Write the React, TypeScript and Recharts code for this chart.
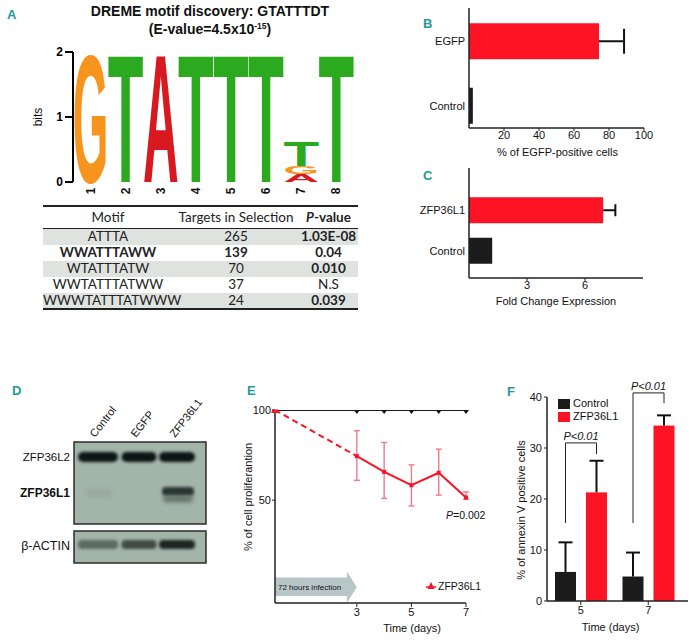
import React from "react";
import {
  BarChart,
  Bar,
  LineChart,
  Line,
  XAxis,
  YAxis,
  ErrorBar,
  Label,
  ReferenceArea,
} from "recharts";

const FONT = "'Liberation Sans', Arial, sans-serif";
const NARROW = "'Liberation Sans Narrow', 'Liberation Sans', Arial, sans-serif";
const TEAL = "#1f9b98";
const RED = "#fc1424";
const BLACK = "#1b1b1b";
const AXIS = "#222";

// A: motif logo (bits per position)
const logoPositions = ["1", "2", "3", "4", "5", "6", "7", "8"];
const logoA = [0, 0, 2, 0, 0, 0, 0.12, 0];
const logoG = [2, 0, 0, 0, 0, 0, 0.12, 0];
const logoT = [0, 2, 0, 2, 2, 2, 0.38, 2];

// A: motif table
const motifNames = ["ATTTA", "WWATTTAWW", "WTATTTATW", "WWTATTTATWW", "WWWTATTTATWWW"];
const motifTargets = [265, 139, 70, 37, 24];
const motifPValues = ["1.03E-08", "0.04", "0.010", "N.S", "0.039"];

// B: % EGFP-positive cells
const egfpGroups = ["EGFP", "Control"];
const egfpValues = [74.3, 2.2];
const egfpErrors = [14.3, 0];

// C: fold change
const foldGroups = ["ZFP36L1", "Control"];
const foldValues = [6.94, 1.2];
const foldErrors = [0.63, 0];

// E: proliferation
const prolifDays = [0, 3, 4, 5, 6, 7];
const prolifControl = [100, 100, 100, 100, 100, 100];
const prolifZfp = [100, 74.4, 65.7, 58.3, 65.2, 51.5];
const prolifErrLow = [0, 13.4, 14.7, 11.5, 12.4, 1.0];
const prolifErrHigh = [0, 14.1, 16.3, 11.3, 13.1, 3.1];
const infectionDays = [0, 3];

// F: annexin V
const annexinDays = ["5", "7"];
const annexinControl = [5.7, 4.8];
const annexinControlErr = [5.8, 4.7];
const annexinZfp = [21.3, 34.4];
const annexinZfpErr = [6.2, 2.0];
const bracketTop = [31.0, 40.8];
const bracketLeftEnd = [15.3, 15.3];
const bracketRightEnd = [28.8, 38.8];

const vTitle = (text: string, dx: number, dy: number, size = 11) => (props: any) => {
  const vb = props.viewBox || { x: 0, y: 0, width: 0, height: 0 };
  const cx = vb.x + dx;
  const cy = vb.y + vb.height / 2 + dy;
  return (
    <text
      x={cx}
      y={cy}
      transform={`rotate(-90 ${cx} ${cy})`}
      textAnchor="middle"
      dominantBaseline="central"
      fontSize={size}
      fill="#111"
      fontFamily={FONT}
    >
      {text}
    </text>
  );
};

const hTitle = (text: string, dx: number, dy: number, size = 11) => (props: any) => {
  const vb = props.viewBox || { x: 0, y: 0, width: 0, height: 0 };
  return (
    <text
      x={vb.x + vb.width / 2 + dx}
      y={vb.y + dy}
      textAnchor="middle"
      fontSize={size}
      fill="#111"
      fontFamily={FONT}
    >
      {text}
    </text>
  );
};

const letterShape = (letter: string, color: string) => (props: any) => {
  const { x, y, width, height } = props;
  if (!height || height <= 0.5) return <g />;
  return (
    <text
      x={0}
      y={0}
      fontSize={100}
      fontWeight="bold"
      fontFamily={FONT}
      fill={color}
      textLength={width * 1.08}
      lengthAdjust="spacingAndGlyphs"
      transform={`translate(${x - width * 0.04},${y + height}) scale(1,${height / 71.6})`}
    >
      {letter}
    </text>
  );
};

const LogoTick = (props: any) => {
  const { x, y, payload } = props;
  return (
    <text
      transform={`translate(${x},${y + 9}) rotate(-90)`}
      textAnchor="middle"
      dominantBaseline="central"
      fontSize={12}
      fontWeight="bold"
      fontFamily={FONT}
      fill="#111"
    >
      {payload.value}
    </text>
  );
};

function MotifLogo() {
  const data = logoPositions.map((pos, i) => ({ pos, A: logoA[i], G: logoG[i], T: logoT[i] }));
  return (
    <BarChart
      width={370}
      height={170}
      data={data}
      margin={{ top: 12, right: 16, bottom: 0, left: 13 }}
      barCategoryGap={1}
    >
      <XAxis
        dataKey="pos"
        axisLine={false}
        tickLine={false}
        tickSize={0}
        tickMargin={0}
        height={28}
        interval={0}
        tick={LogoTick}
      />
      <YAxis
        domain={[0, 2]}
        ticks={[0, 1, 2]}
        width={60}
        axisLine={{ stroke: "#000", strokeWidth: 2 }}
        tickLine={{ stroke: "#000", strokeWidth: 2 }}
        tickSize={8}
        tickMargin={2}
        tick={{ fontSize: 12, fontWeight: "bold", fill: "#000", fontFamily: FONT }}
      >
        <Label content={vTitle("bits", 25, 0, 12)} />
      </YAxis>
      <Bar dataKey="A" stackId="s" shape={letterShape("A", "#d81920")} isAnimationActive={false} />
      <Bar dataKey="G" stackId="s" shape={letterShape("G", "#f7941e")} isAnimationActive={false} />
      <Bar dataKey="T" stackId="s" shape={letterShape("T", "#2caa1f")} isAnimationActive={false} />
    </BarChart>
  );
}

function MotifTable() {
  const cols = [130, 126, 59];
  return (
    <div
      style={{
        position: "absolute",
        left: 43,
        top: 205,
        width: 315,
        fontFamily: "Lato, 'Open Sans', sans-serif",
        fontSize: 13.5,
        color: "#222",
        lineHeight: 1,
      }}
    >
      <div
        style={{
          borderTop: "2.5px solid #222",
          borderBottom: "1.5px solid #222",
          display: "flex",
          height: 21,
          alignItems: "center",
        }}
      >
        <div style={{ width: cols[0], textAlign: "center" }}>Motif</div>
        <div style={{ width: cols[1], textAlign: "center" }}>Targets in Selection</div>
        <div style={{ width: cols[2], textAlign: "center", fontWeight: 700 }}>
          <i>P</i>-value
        </div>
      </div>
      {motifNames.map((m, i) => (
        <div
          key={m}
          style={{
            display: "flex",
            height: 15.9,
            alignItems: "center",
            background: i % 2 === 0 ? "#dfe3e0" : "transparent",
            fontWeight: i === 1 ? 700 : 400,
          }}
        >
          <div style={{ width: cols[0], textAlign: "center" }}>{m}</div>
          <div style={{ width: cols[1], textAlign: "center" }}>{motifTargets[i]}</div>
          <div style={{ width: cols[2], textAlign: "center", fontWeight: motifPValues[i] === "N.S" ? 400 : 700 }}>
            {motifPValues[i]}
          </div>
        </div>
      ))}
      <div style={{ borderTop: "2.5px solid #222" }} />
    </div>
  );
}

const hBarShape = (values: number[], errors: number[], colors: string[], capHalf: number) => (props: any) => {
  const { x, y, width, height, index } = props;
  const v = values[index];
  const e = errors[index];
  const ppu = width / v;
  const end = x + width;
  const cy = y + height / 2;
  const errEnd = end + e * ppu;
  return (
    <g>
      <rect x={x} y={y} width={width} height={height} fill={colors[index]} />
      {e > 0 && (
        <g stroke="#111" strokeWidth={2}>
          <line x1={end} y1={cy} x2={errEnd} y2={cy} />
          <line x1={errEnd} y1={cy - capHalf} x2={errEnd} y2={cy + capHalf} />
        </g>
      )}
    </g>
  );
};

function EgfpChart() {
  const data = egfpGroups.map((name, i) => ({ name, value: egfpValues[i] }));
  return (
    <BarChart
      width={280}
      height={170}
      data={data}
      layout="vertical"
      margin={{ top: 8, right: 16, bottom: 0, left: 9 }}
      barSize={36}
    >
      <XAxis
        type="number"
        domain={[0, 100]}
        ticks={[20, 40, 60, 80, 100]}
        height={42}
        axisLine={{ stroke: AXIS, strokeWidth: 1.5 }}
        tickLine={{ stroke: AXIS }}
        tickSize={3}
        tickMargin={0}
        tick={{ fontSize: 11, fill: "#111", fontFamily: FONT }}
      >
        <Label content={hTitle("% of EGFP-positive cells", 1, 28)} />
      </XAxis>
      <YAxis
        type="category"
        dataKey="name"
        width={80}
        padding={{ top: 1.25, bottom: -10.25 }}
        axisLine={{ stroke: AXIS, strokeWidth: 1.5 }}
        tickLine={false}
        tickSize={0}
        tickMargin={4}
        tick={{ fontSize: 11, fill: "#111", fontFamily: FONT }}
      />
      <Bar
        dataKey="value"
        shape={hBarShape(egfpValues, egfpErrors, [RED, BLACK], 12.5)}
        isAnimationActive={false}
      />
    </BarChart>
  );
}

function FoldChart() {
  const data = foldGroups.map((name, i) => ({ name, value: foldValues[i] }));
  return (
    <BarChart
      width={280}
      height={160}
      data={data}
      layout="vertical"
      margin={{ top: 8, right: 17, bottom: 0, left: 9 }}
      barSize={26}
    >
      <XAxis
        type="number"
        domain={[0, 9]}
        ticks={[3, 6]}
        height={42}
        axisLine={{ stroke: AXIS, strokeWidth: 1.5 }}
        tickLine={{ stroke: AXIS }}
        tickSize={3}
        tickMargin={0}
        tick={{ fontSize: 11, fill: "#111", fontFamily: FONT }}
      >
        <Label content={hTitle("Fold Change Expression", 0, 27)} />
      </XAxis>
      <YAxis
        type="category"
        dataKey="name"
        width={80}
        padding={{ top: 22.25, bottom: 6.75 }}
        axisLine={{ stroke: AXIS, strokeWidth: 1.5 }}
        tickLine={false}
        tickSize={0}
        tickMargin={4}
        tick={{ fontSize: 11, fill: "#111", fontFamily: FONT }}
      />
      <Bar
        dataKey="value"
        shape={hBarShape(foldValues, foldErrors, [RED, BLACK], 6)}
        isAnimationActive={false}
      />
    </BarChart>
  );
}

function WesternBlot() {
  const lanes = [
    { cx: 98, w: 40 },
    { cx: 139, w: 35 },
    { cx: 177, w: 36 },
  ];
  const laneNames = ["Control", "EGFP", "ZFP36L1"];
  const laneStarts = [95, 136, 175];
  const actin = ["#5d6b62", "#3f4b44", "#1f2622"];
  return (
    <svg width={230} height={200} style={{ position: "absolute", left: 0, top: 380 }}>
      <defs>
        <filter id="b1" x="-20%" y="-100%" width="140%" height="300%">
          <feGaussianBlur stdDeviation="1.4" />
        </filter>
        <filter id="b2" x="-20%" y="-100%" width="140%" height="300%">
          <feGaussianBlur stdDeviation="2.2" />
        </filter>
      </defs>
      {laneNames.map((n, i) => (
        <text
          key={n}
          transform={`translate(${laneStarts[i]},58) rotate(-52)`}
          fontSize={11}
          fontFamily={FONT}
          fill="#111"
        >
          {n}
        </text>
      ))}
      <rect x={74} y={62} width={132} height={82} fill="#a3b4a9" stroke="#2b2b2b" strokeWidth={1.5} />
      <rect x={74} y={151} width={132} height={32} fill="#a3b4a9" stroke="#2b2b2b" strokeWidth={1.5} />
      {lanes.map((l, i) => (
        <rect
          key={"l2" + i}
          x={l.cx - l.w / 2}
          y={72}
          width={l.w}
          height={10}
          rx={5}
          fill="#101612"
          filter="url(#b1)"
        />
      ))}
      <rect x={86} y={109} width={26} height={8} rx={4} fill="#98a89e" filter="url(#b2)" />
      <rect x={162} y={107} width={32} height={9} rx={4} fill="#2c3530" filter="url(#b1)" />
      <rect x={163} y={116} width={30} height={6} rx={3} fill="#5f6e65" filter="url(#b2)" />
      {lanes.map((l, i) => (
        <rect
          key={"ac" + i}
          x={l.cx - l.w / 2}
          y={160}
          width={l.w}
          height={9}
          rx={4}
          fill={actin[i]}
          filter="url(#b1)"
        />
      ))}
      <text x={70} y={77} textAnchor="end" dominantBaseline="central" fontSize={11.5} fontFamily={FONT} fill="#111">
        ZFP36L2
      </text>
      <text
        x={70}
        y={113}
        textAnchor="end"
        dominantBaseline="central"
        fontSize={12}
        fontWeight="bold"
        fontFamily={FONT}
        fill="#111"
      >
        ZFP36L1
      </text>
      <text x={70} y={166} textAnchor="end" dominantBaseline="central" fontSize={12.5} fontFamily={FONT} fill="#111">
        β-ACTIN
      </text>
    </svg>
  );
}

const DiamondDot = (p: any) => {
  const { cx, cy, index } = p;
  if (index === 0 || cx == null || cy == null) return <g key={"dd" + index} />;
  return (
    <path
      key={"dd" + index}
      d={`M${cx},${cy - 4} L${cx + 3},${cy} L${cx},${cy + 4} L${cx - 3},${cy} Z`}
      fill="#111"
    />
  );
};

const LeadDot = (p: any) => {
  const { cx, cy, index } = p;
  if (index !== 0 || cx == null || cy == null) return <g key={"ld" + index} />;
  return <path key={"ld" + index} d={`M${cx},${cy - 4} L${cx + 4},${cy + 3} L${cx - 4},${cy + 3} Z`} fill={RED} />;
};

const SquareDot = (p: any) => {
  const { cx, cy, index } = p;
  if (cx == null || cy == null) return <g key={"sd" + index} />;
  return <rect key={"sd" + index} x={cx - 2} y={cy - 2} width={4} height={4} fill={RED} />;
};

const InfectionArrow = (props: any) => {
  const { x, y, width, height } = props;
  const head = 10;
  const bt = y + 6;
  const bb = y + height - 7;
  const d = `M${x},${bt} L${x + width - head},${bt} L${x + width - head},${y} L${x + width},${y + height / 2} L${x + width - head},${y + height} L${x + width - head},${bb} L${x},${bb} Z`;
  return (
    <g>
      <path d={d} fill="#b8c6c8" />
      <text x={x + 3} y={y + height / 2} dominantBaseline="central" fontSize={8} fontFamily={FONT} fill="#111">
        72 hours infection
      </text>
    </g>
  );
};

function ProliferationChart() {
  const data = prolifDays.map((day, i) => ({
    day,
    control: prolifControl[i],
    zfpAll: prolifZfp[i],
    zfpLead: i <= 1 ? prolifZfp[i] : null,
    zfp: i >= 1 ? prolifZfp[i] : null,
    zfpErr: [prolifErrLow[i], prolifErrHigh[i]],
  }));
  return (
    <LineChart width={270} height={245} data={data} margin={{ top: 15, right: 24, bottom: 0, left: 5 }}>
      <XAxis
        type="number"
        dataKey="day"
        domain={[0, 7]}
        ticks={[3, 5, 7]}
        height={37}
        axisLine={{ stroke: AXIS, strokeWidth: 1.5 }}
        tickLine={{ stroke: AXIS }}
        tickSize={4}
        tickMargin={1}
        tick={{ fontSize: 11, fill: "#111", fontFamily: FONT }}
      >
        <Label content={hTitle("Time (days)", 41.5, 29)} />
      </XAxis>
      <YAxis
        type="number"
        domain={[-7, 100]}
        ticks={[50, 100]}
        allowDataOverflow
        width={50}
        axisLine={{ stroke: AXIS, strokeWidth: 1.5 }}
        tickLine={{ stroke: AXIS }}
        tickSize={3}
        tickMargin={1}
        tick={{ fontSize: 11, fill: "#111", fontFamily: FONT }}
      >
        <Label content={vTitle("% of cell proliferantion", 23, -9.5)} />
      </YAxis>
      <ReferenceArea
        x1={infectionDays[0]}
        x2={infectionDays[1]}
        y1={-7}
        y2={10.5}
        shape={InfectionArrow}
      />
      <Line dataKey="zfpAll" stroke="none" dot={false} isAnimationActive={false}>
        <ErrorBar dataKey="zfpErr" width={3} stroke="#f07a8a" strokeWidth={1.4} direction="y" />
      </Line>
      <Line dataKey="control" stroke="#1a1a1a" strokeWidth={2} dot={DiamondDot} isAnimationActive={false} />
      <Line
        dataKey="zfpLead"
        stroke={RED}
        strokeWidth={2}
        strokeDasharray="6 4"
        dot={LeadDot}
        isAnimationActive={false}
      />
      <Line dataKey="zfp" stroke={RED} strokeWidth={2} dot={SquareDot} isAnimationActive={false} />
    </LineChart>
  );
}

const BAR_SIZE = 21;
const BAR_GAP = 10;

const annexinShape = (isZfp: boolean) => (props: any) => {
  const { x, y, width, height, index } = props;
  const value = isZfp ? annexinZfp[index] : annexinControl[index];
  const err = isZfp ? annexinZfpErr[index] : annexinControlErr[index];
  const ppu = height / value;
  const base = y + height;
  const cx = x + width / 2;
  const errTop = base - (value + err) * ppu;
  const cap = 7;
  let bracket = null;
  if (isZfp) {
    const lx = cx - BAR_SIZE - BAR_GAP;
    const ty = base - bracketTop[index] * ppu;
    const ly = base - bracketLeftEnd[index] * ppu;
    const ry = base - bracketRightEnd[index] * ppu;
    bracket = (
      <g>
        <path d={`M${lx},${ly} V${ty} H${cx} V${ry}`} fill="none" stroke="#222" strokeWidth={1} />
        <text
          x={(lx + cx) / 2}
          y={ty - 3}
          textAnchor="middle"
          fontSize={11}
          fontStyle="italic"
          fontFamily={FONT}
          fill="#111"
        >
          P&lt;0.01
        </text>
      </g>
    );
  }
  return (
    <g>
      <rect x={x} y={y} width={width} height={height} fill={isZfp ? RED : BLACK} />
      <g stroke="#111" strokeWidth={2}>
        <line x1={cx} y1={y} x2={cx} y2={errTop} />
        <line x1={cx - cap} y1={errTop} x2={cx + cap} y2={errTop} />
      </g>
      {bracket}
    </g>
  );
};

function AnnexinChart() {
  const data = annexinDays.map((day, i) => ({ day, control: annexinControl[i], zfp: annexinZfp[i] }));
  return (
    <BarChart
      width={219}
      height={260}
      data={data}
      margin={{ top: 17, right: 1, bottom: 0, left: 2 }}
      barSize={BAR_SIZE}
      barGap={BAR_GAP}
    >
      <XAxis
        dataKey="day"
        padding={{ left: 0, right: 6 }}
        height={39}
        axisLine={{ stroke: AXIS, strokeWidth: 1.5 }}
        tickLine={{ stroke: AXIS }}
        tickSize={4}
        tickMargin={1}
        tick={{ fontSize: 11, fill: "#111", fontFamily: FONT }}
      >
        <Label content={hTitle("Time (days)", -7, 30)} />
      </XAxis>
      <YAxis
        domain={[0, 40]}
        ticks={[0, 10, 20, 30, 40]}
        width={75}
        axisLine={{ stroke: AXIS, strokeWidth: 1.5 }}
        tickLine={{ stroke: AXIS }}
        tickSize={3}
        tickMargin={2}
        tick={{ fontSize: 11, fill: "#111", fontFamily: FONT }}
      >
        <Label content={vTitle("% of annexin V positive cells", 49, 11)} />
      </YAxis>
      <Bar dataKey="control" shape={annexinShape(false)} isAnimationActive={false} />
      <Bar dataKey="zfp" shape={annexinShape(true)} isAnimationActive={false} />
    </BarChart>
  );
}

const panelLabel = (text: string, left: number, top: number) => (
  <div
    style={{
      position: "absolute",
      left,
      top,
      color: TEAL,
      fontFamily: NARROW,
      fontWeight: "bold",
      fontSize: 13,
      lineHeight: 1,
    }}
  >
    {text}
  </div>
);

export default function App() {
  return (
    <div
      style={{
        position: "absolute",
        left: 0,
        top: 0,
        width: 689,
        height: 640,
        background: "#fff",
        overflow: "hidden",
        fontFamily: FONT,
      }}
    >
      {panelLabel("A", 7, 8)}
      {panelLabel("B", 423, 17)}
      {panelLabel("C", 423, 169)}
      {panelLabel("D", 12, 384)}
      {panelLabel("E", 247, 384)}
      {panelLabel("F", 507, 385)}

      <div
        style={{
          position: "absolute",
          left: 60,
          top: 3,
          width: 300,
          textAlign: "center",
          fontWeight: "bold",
          fontSize: 14,
          lineHeight: "17px",
          color: "#111",
        }}
      >
        <div>DREME motif discovery: GTATTTDT</div>
        <div style={{ marginTop: 1 }}>
          (E-value=4.5x10
          <span style={{ fontSize: 8.5, position: "relative", top: -5 }}>-15</span>)
        </div>
      </div>

      <div style={{ position: "absolute", left: 0, top: 40 }}>
        <MotifLogo />
      </div>
      <MotifTable />

      <div style={{ position: "absolute", left: 380, top: 0 }}>
        <EgfpChart />
      </div>
      <div style={{ position: "absolute", left: 380, top: 160 }}>
        <FoldChart />
      </div>

      <WesternBlot />

      <div style={{ position: "absolute", left: 220, top: 395 }}>
        <ProliferationChart />
      </div>
      <div style={{ position: "absolute", left: 446, top: 509, fontSize: 10.5, color: "#111" }}>
        <i>P</i>=0.002
      </div>
      <div
        style={{
          position: "absolute",
          left: 426,
          top: 580,
          fontSize: 10.5,
          color: "#111",
          display: "flex",
          alignItems: "center",
          gap: 2,
        }}
      >
        <svg width={10} height={10}>
          <line x1={0} y1={6} x2={10} y2={6} stroke={RED} strokeWidth={1.5} />
          <path d="M5,1 L8.5,8 L1.5,8 Z" fill={RED} />
        </svg>
        <span>ZFP36L1</span>
      </div>

      <div style={{ position: "absolute", left: 470, top: 380 }}>
        <AnnexinChart />
      </div>
      <div style={{ position: "absolute", left: 558, top: 397, fontSize: 11, color: "#111", lineHeight: "13px" }}>
        <div style={{ display: "flex", alignItems: "center", gap: 3 }}>
          <span style={{ width: 12, height: 10, background: BLACK, display: "inline-block" }} />
          Control
        </div>
        <div style={{ display: "flex", alignItems: "center", gap: 3 }}>
          <span style={{ width: 12, height: 10, background: RED, display: "inline-block" }} />
          ZFP36L1
        </div>
      </div>
    </div>
  );
}
